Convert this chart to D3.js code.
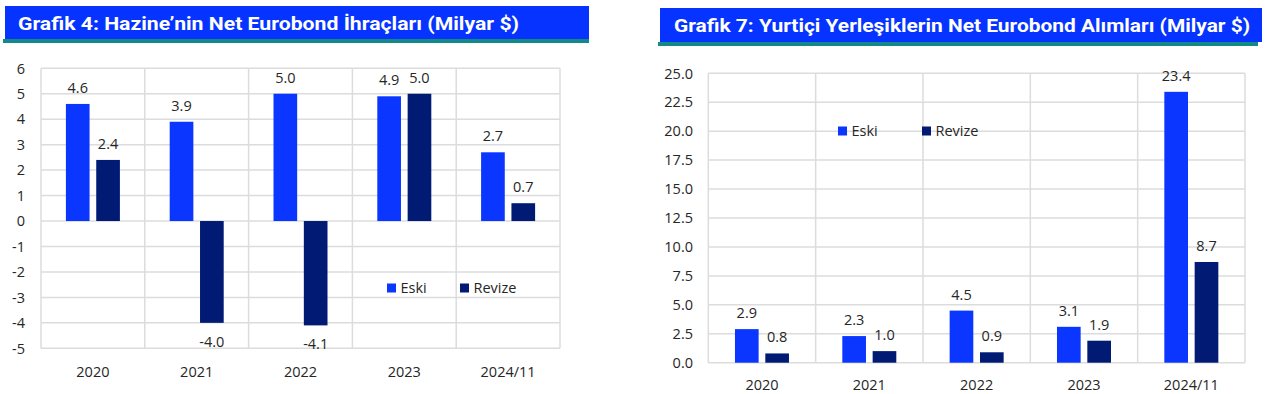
<!DOCTYPE html>
<html><head><meta charset="utf-8">
<script src="https://cdn.jsdelivr.net/npm/d3@7"></script>
<style>
html,body{margin:0;padding:0;background:#fff;}
svg{display:block;}
text{font-family:"Open Sans",sans-serif;}
</style></head>
<body>
<svg id="c" width="1275" height="394"></svg>
<script>
// ---- data ----
const categories = ["2020","2021","2022","2023","2024/11"];
const seriesNames = ["Eski","Revize"];
const leftEski   = [4.6, 3.9, 5.0, 4.9, 2.7];
const leftRevize = [2.4, -4.0, -4.1, 5.0, 0.7];
const rightEski   = [2.9, 2.3, 4.5, 3.1, 23.4];
const rightRevize = [0.8, 1.0, 0.9, 1.9, 8.7];
const leftTicks  = [-5,-4,-3,-2,-1,0,1,2,3,4,5,6];
const rightTicks = [0,2.5,5,7.5,10,12.5,15,17.5,20,22.5,25];
const leftTitle  = "Grafik 4: Hazine’nin Net Eurobond İhraçları (Milyar $)";
const rightTitle = "Grafik 7: Yurtiçi Yerleşiklerin Net Eurobond Alımları (Milyar $)";

const loc = d3.formatLocale({decimal:".", thousands:",", grouping:[3], currency:["$",""], minus:"-"});
const colors = {Eski:"#0a36ff", Revize:"#011a73"};
const svg = d3.select("#c");

function drawTitle(t, box){
  svg.append("rect").attr("x",box.x0).attr("y",box.top).attr("width",box.x1-box.x0).attr("height",box.bottom-box.top).attr("fill","#0633ff");
  svg.append("rect").attr("x",box.tx0).attr("y",box.bottom).attr("width",box.tx1-box.tx0).attr("height",4).attr("fill","#148a88");
  svg.append("text").attr("x",box.textX).attr("y",box.base).text(t)
    .attr("fill","#fff").style("font-family","Roboto, sans-serif").style("font-weight","700").style("font-size","19px")
    .attr("textLength",box.textW).attr("lengthAdjust","spacingAndGlyphs");
}

function drawChart(cfg){
  const g = svg.append("g");
  const y = d3.scaleLinear().domain(cfg.domain).range([cfg.bottom, cfg.top]);
  const x0 = d3.scaleBand().domain(categories).range([cfg.left, cfg.right]).padding(0);
  const x1 = d3.scaleBand().domain(seriesNames).range([-27,27]).paddingInner(0.22).paddingOuter(0);
  g.selectAll(".hg").data(cfg.ticks).join("line")
    .attr("x1",cfg.left).attr("x2",cfg.right).attr("y1",d=>y(d)).attr("y2",d=>y(d))
    .attr("stroke","#dcdcdc").attr("stroke-width",1.5);
  const bounds = categories.map(c=>x0(c)).concat([cfg.right]);
  g.selectAll(".vg").data(bounds).join("line")
    .attr("x1",d=>d).attr("x2",d=>d).attr("y1",y(cfg.domain[0])).attr("y2",y(cfg.domain[1]))
    .attr("stroke","#dcdcdc").attr("stroke-width",1.5);
  g.selectAll(".yl").data(cfg.ticks).join("text")
    .attr("x",cfg.yLabelX).attr("y",d=>y(d)).attr("dy","0.36em").attr("text-anchor","end")
    .style("font-size","14.5px").attr("fill","#262626").text(d=>cfg.fmt(d));
  g.selectAll(".xl").data(categories).join("text")
    .attr("x",d=>x0(d)+x0.bandwidth()/2).attr("y",cfg.xLabelY).attr("text-anchor","middle")
    .style("font-size","14.5px").attr("fill","#262626").text(d=>d);
  const rows = [];
  categories.forEach((c,i)=>{
    rows.push({c, s:"Eski", v:cfg.eski[i]});
    rows.push({c, s:"Revize", v:cfg.revize[i]});
  });
  const bx = d=>x0(d.c)+x0.bandwidth()/2+x1(d.s);
  g.selectAll(".bar").data(rows).join("rect")
    .attr("x",bx).attr("width",x1.bandwidth())
    .attr("y",d=>y(Math.max(0,d.v))).attr("height",d=>Math.abs(y(d.v)-y(0)))
    .attr("fill",d=>colors[d.s]);
  g.selectAll(".dl").data(rows).join("text")
    .attr("x",d=>bx(d)+x1.bandwidth()/2)
    .attr("y",d=>d.v>=0 ? y(d.v)-11 : y(d.v)+24)
    .attr("text-anchor","middle").style("font-size","14.5px").attr("fill","#262626")
    .text(d=>loc.format(".1f")(d.v));
  seriesNames.forEach((s,i)=>{
    const lx = cfg.legend[i];
    g.append("rect").attr("x",lx).attr("y",cfg.legendY).attr("width",9).attr("height",9).attr("fill",colors[s]);
    g.append("text").attr("x",lx+13.5).attr("y",cfg.legendY+4.5).attr("dy","0.36em")
      .style("font-size","14.5px").attr("fill","#262626").text(s);
  });
}

drawTitle(leftTitle,{x0:5,x1:589,top:6,bottom:39,tx0:3,tx1:589,textX:18,base:29.5,textW:501});
drawTitle(rightTitle,{x0:660,x1:1262,top:8,bottom:42,tx0:658,tx1:1258,textX:674,base:32,textW:576});

drawChart({left:41,right:560,top:68.3,bottom:348.3,domain:[-5,6],ticks:leftTicks,fmt:loc.format("d"),
  eski:leftEski,revize:leftRevize,yLabelX:25,xLabelY:376.5,legend:[387,460],legendY:283.5});
drawChart({left:708.3,right:1245,top:73.3,bottom:362.7,domain:[0,25],ticks:rightTicks,fmt:loc.format(".1f"),
  eski:rightEski,revize:rightRevize,yLabelX:693,xLabelY:390,legend:[838,922],legendY:126.5});
</script>
</body></html>
